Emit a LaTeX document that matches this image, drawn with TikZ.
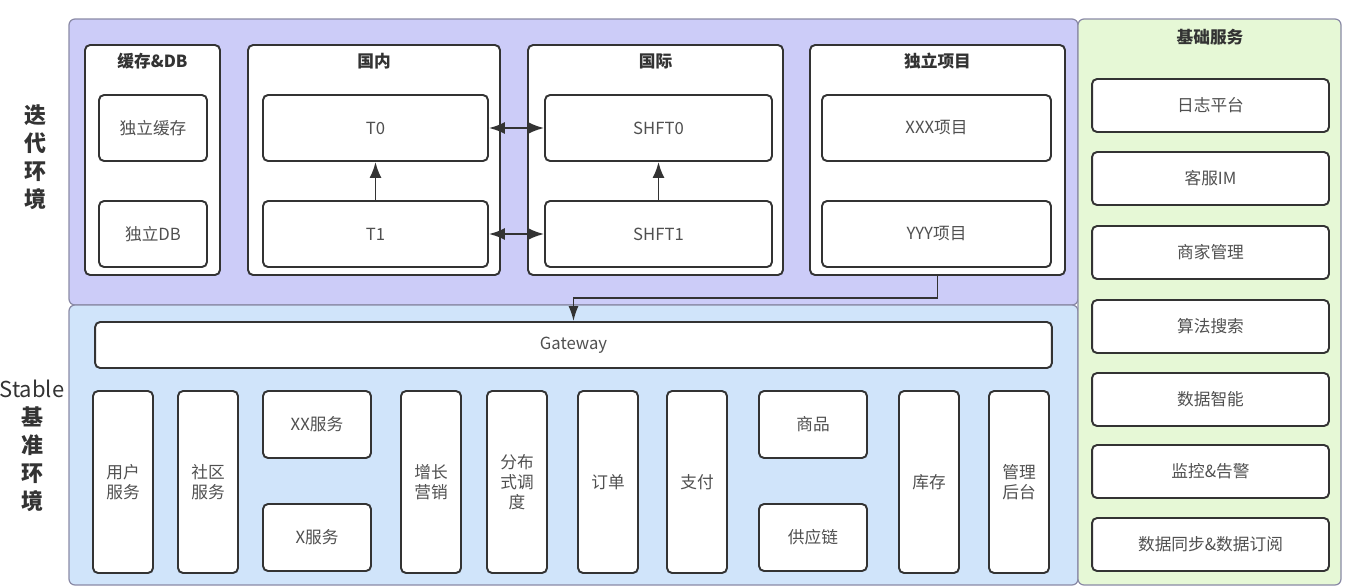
\documentclass[tikz,border=0pt]{standalone}
\usepackage{fontspec}
\setmainfont{Noto Sans CJK SC}
\usetikzlibrary{arrows.meta}
\definecolor{iterbg}{HTML}{CCCCF8}
\definecolor{stablebg}{HTML}{D0E4FA}
\definecolor{basebg}{HTML}{E6F8D6}
\definecolor{panelline}{HTML}{8A8AA6}
\definecolor{boxline}{HTML}{333333}
\definecolor{txt}{HTML}{505050}
\definecolor{titletxt}{HTML}{333333}
\begin{document}
\begin{tikzpicture}[x=0.02cm, y=-0.02cm]
    \tikzstyle{every node}=[align=center, text=txt, font=\fontsize{9.5}{11.5}\selectfont];
    \tikzstyle{panel} = [draw=panelline, line width=0.7pt, rounded corners=1.2mm]
    \tikzstyle{group} = [draw=boxline, line width=1.1pt, rounded corners=1mm, fill=white, minimum height=4.6cm]
    \tikzstyle{block} = [draw=boxline, line width=1.1pt, rounded corners=1mm, fill=white, inner sep=0pt]
    \tikzstyle{title} = [text=titletxt, font=\fontsize{9.5}{11.5}\selectfont\bfseries]
    \tikzstyle{envlabel} = [text=titletxt, font=\fontsize{12.5}{16}\selectfont]
    \tikzstyle{flow} = [-{Latex[length=3.2mm, width=2.4mm]}, line width=1.1pt, draw=boxline]
    \tikzstyle{twoway} = [{Latex[length=3.2mm, width=2.4mm]}-{Latex[length=3.2mm, width=2.4mm]}, line width=1.1pt, draw=boxline]

    \useasboundingbox (0,0) rectangle (1346,586);

    % panels
    \draw[panel, fill=iterbg] (69,19) rectangle (1078,305);
    \draw[panel, fill=stablebg] (69,305) rectangle (1078,585);
    \draw[panel, fill=basebg] (1078,19) rectangle (1341,585);

    \node[envlabel] (iterL) at (35,157) {\bfseries 迭\\\bfseries 代\\\bfseries 环\\\bfseries 境};
    \node[envlabel] (stableL) at (32,446) {Stable\\\bfseries 基\\\bfseries 准\\\bfseries 环\\\bfseries 境};

    % iteration environment
    \node[group, minimum width=2.7cm] (cache) at (152.5,160) {};
    \node[group, minimum width=5.04cm] (cn) at (374,160) {};
    \node[group, minimum width=5.1cm] (intl) at (655.5,160) {};
    \node[group, minimum width=5.1cm] (indep) at (937.5,160) {};

    \node[title] (cacheT) at ([yshift=-0.34cm]cache.north) {缓存\&DB};
    \node[title] (cnT) at ([yshift=-0.34cm]cn.north) {国内};
    \node[title] (intlT) at ([yshift=-0.34cm]intl.north) {国际};
    \node[title] (indepT) at ([yshift=-0.34cm]indep.north) {独立项目};

    \node[block, minimum width=2.16cm, minimum height=1.32cm] (cacheA) at (153,128) {独立缓存};
    \node[block, minimum width=2.16cm, minimum height=1.32cm] (cacheB) at (153,234) {独立DB};
    \node[block, minimum width=4.5cm, minimum height=1.32cm] (T0) at (375.5,128) {T0};
    \node[block, minimum width=4.5cm, minimum height=1.32cm] (T1) at (375.5,234) {T1};
    \node[block, minimum width=4.54cm, minimum height=1.32cm] (SHFT0) at (658.5,128) {SHFT0};
    \node[block, minimum width=4.54cm, minimum height=1.32cm] (SHFT1) at (658.5,234) {SHFT1};
    \node[block, minimum width=4.58cm, minimum height=1.32cm] (XXX) at (936.5,128) {XXX项目};
    \node[block, minimum width=4.58cm, minimum height=1.32cm] (YYY) at (936.5,234) {YYY项目};

    \draw[flow] (T1) -- (T0);
    \draw[flow] (SHFT1) -- (SHFT0);
    \draw[twoway] (T0) -- (SHFT0);
    \draw[twoway] (T1) -- (SHFT1);

    % stable environment
    \node[block, minimum width=19.14cm, minimum height=0.92cm] (gw) at (573.5,345) {Gateway};
    \draw[-{Latex[length=3mm, width=2mm]}, line width=0.9pt, draw=boxline] (indep.south) -- ++(0,22) -| (gw.north);

    \foreach \name/\x/\txt in {user/123/用户\\服务, community/208/社区\\服务, growth/431/增长\\营销,
        sched/517/分布\\式调\\度, order/608/订单, pay/697/支付, stock/929/库存, admin/1019/管理\\后台}
        \node[block, minimum width=1.2cm, minimum height=3.64cm] (\name) at (\x,482) {\txt};

    \node[block, minimum width=2.16cm, minimum height=1.34cm] (xxsvc) at (317,424.5) {XX服务};
    \node[block, minimum width=2.16cm, minimum height=1.34cm] (xsvc) at (317,537.5) {X服务};
    \node[block, minimum width=2.16cm, minimum height=1.34cm] (goods) at (813,424.5) {商品};
    \node[block, minimum width=2.16cm, minimum height=1.34cm] (supply) at (813,537.5) {供应链};

    % base services
    \node[title] (baseT) at (1210,37) {基础服务};
    \foreach \name/\y/\txt in {log/105.5/日志平台, im/178.5/客服IM, merchant/252.5/商家管理, search/326.5/算法搜索,
        data/399.5/数据智能, monitor/471.5/监控\&告警, sync/544.5/数据同步\&数据订阅}
        \node[block, minimum width=4.74cm, minimum height=1.06cm] (\name) at (1210.5,\y) {\txt};

\end{tikzpicture}
\end{document}
